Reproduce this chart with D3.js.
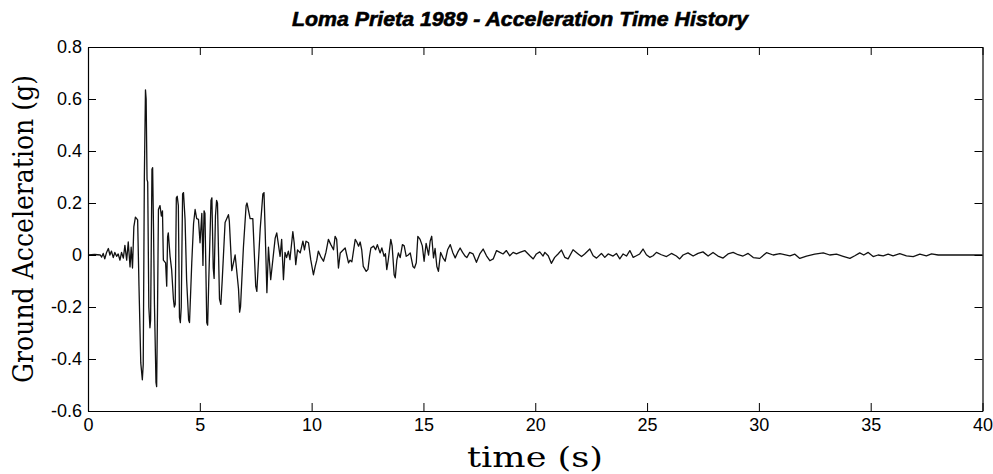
<!DOCTYPE html>
<html>
<head>
<meta charset="utf-8">
<script src="https://cdn.jsdelivr.net/npm/d3@7"></script>
<style>
  body { margin: 0; background: #fff; }
  svg { display: block; }
</style>
</head>
<body>
<svg id="chart" width="993" height="474"></svg>
<script>
// Loma Prieta record as [time (s), acceleration (g)]
var onset = [
  [0, 0], [0.3, 0.002], [0.55, 0], [0.61, -0.008], [0.68, 0.006], [0.75, -0.015],
  [0.83, 0.01], [0.91, 0.025], [0.98, 0], [1.05, 0.015], [1.13, -0.01], [1.2, 0.01],
  [1.28, -0.005], [1.35, 0.004], [1.43, -0.02], [1.5, 0.01], [1.58, -0.012],
  [1.65, 0.037], [1.73, -0.02], [1.8, 0.05], [1.88, -0.046], [1.93, 0.03], [1.99, -0.05]
];
var strong = [
  [2.05, 0.108], [2.12, 0.146], [2.22, 0.135], [2.28, -0.12], [2.36, -0.415], [2.43, -0.48],
  [2.47, -0.42], [2.52, 0.3], [2.57, 0.635], [2.6, 0.6], [2.64, 0.29], [2.67, 0.28],
  [2.72, -0.2], [2.77, -0.28], [2.8, -0.25], [2.86, 0.33], [2.89, 0.336], [2.93, 0.1],
  [2.97, -0.185], [3.04, -0.49], [3.07, -0.506], [3.11, -0.2], [3.15, 0.175], [3.22, 0.19],
  [3.28, 0.15], [3.33, 0.17], [3.37, -0.02], [3.47, -0.03], [3.52, -0.12], [3.56, 0.07],
  [3.59, 0.085], [3.67, -0.005], [3.74, -0.056], [3.82, -0.17], [3.86, -0.2], [3.9, -0.19],
  [3.95, 0.22], [3.99, 0.226], [4.04, 0.19], [4.09, -0.24], [4.13, -0.26], [4.17, -0.2],
  [4.23, 0.235], [4.27, 0.24], [4.34, 0.137], [4.41, -0.095], [4.5, -0.25], [4.54, -0.26],
  [4.64, -0.03], [4.72, 0.12], [4.79, 0.175], [4.86, 0.14], [4.94, 0.137], [5.01, 0.047],
  [5.09, 0.16], [5.14, -0.04], [5.19, 0.17], [5.23, 0.16], [5.31, -0.26], [5.35, -0.27],
  [5.4, -0.1], [5.5, 0.21], [5.54, 0.22], [5.6, -0.05], [5.64, -0.09], [5.7, 0.15],
  [5.75, 0.21], [5.79, 0.2], [5.88, -0.17], [5.94, -0.19], [6.0, -0.1], [6.13, 0.125],
  [6.28, 0.155], [6.32, 0.13], [6.43, -0.06], [6.58, 0], [6.73, -0.13], [6.78, -0.22],
  [6.82, -0.2], [6.95, 0.03], [7.07, 0.19], [7.11, 0.2], [7.25, 0.14], [7.37, 0.14],
  [7.5, -0.12], [7.55, -0.14], [7.7, 0.1], [7.82, 0.235], [7.87, 0.24], [7.92, 0.1],
  [8.0, -0.145], [8.07, 0.03], [8.17, -0.095], [8.37, 0.065], [8.44, 0.085], [8.59, -0.005],
  [8.66, 0.06], [8.74, -0.095]
];
var decay = [
  [8.81, 0.01], [8.88, -0.01], [8.96, 0.015], [9.03, -0.018], [9.16, 0.09], [9.22, 0.047],
  [9.29, -0.037], [9.37, 0.02], [9.49, 0.008], [9.61, 0.053], [9.68, 0.02], [9.75, 0.053],
  [9.86, 0.047], [9.96, -0.018], [10.08, -0.076], [10.16, -0.044], [10.23, -0.02], [10.3, 0.015],
  [10.4, -0.005], [10.53, -0.024], [10.64, 0.01], [10.75, 0.06], [10.86, 0.04], [10.98, 0.02],
  [11.05, 0.072], [11.12, 0.06], [11.2, -0.05], [11.28, 0.008], [11.42, 0.02], [11.5, 0.027],
  [11.57, 0], [11.65, -0.03], [11.72, -0.02], [11.8, -0.026], [11.95, 0.06], [12.02, 0.05],
  [12.1, 0.034], [12.17, 0.05], [12.24, 0.02], [12.31, -0.044], [12.44, -0.063], [12.52, -0.055],
  [12.59, -0.005], [12.65, 0.027], [12.77, 0.034], [12.86, 0.02], [12.94, 0.04], [13.06, 0.008],
  [13.14, 0.027], [13.24, -0.005], [13.3, 0.005], [13.36, -0.056], [13.42, -0.024], [13.54, 0.06],
  [13.6, 0.035], [13.69, -0.076], [13.74, -0.088], [13.81, -0.02], [13.88, 0.008], [13.96, -0.01],
  [14.06, 0.04], [14.14, 0.035], [14.23, -0.005], [14.32, 0], [14.41, 0.008], [14.53, -0.044],
  [14.6, -0.05], [14.68, -0.03], [14.75, 0.072], [14.85, 0.06], [14.95, 0.035], [15.03, -0.024],
  [15.12, 0.045], [15.23, 0], [15.3, 0.053], [15.37, 0.072], [15.45, -0.011], [15.52, 0.025],
  [15.6, -0.044], [15.67, -0.063], [15.77, 0.01], [15.87, -0.01], [15.97, -0.024], [16.08, 0.02],
  [16.2, 0.04], [16.31, 0.01], [16.42, -0.011], [16.53, 0.01], [16.64, 0.027], [16.75, 0.01],
  [16.87, -0.005], [16.94, -0.01]
];
var coda = [
  [17.07, 0.01], [17.22, 0.004], [17.37, -0.028], [17.52, 0.004], [17.67, 0.023], [17.82, -0.003],
  [17.97, -0.022], [18.12, -0.015], [18.27, 0.017], [18.42, 0.01], [18.56, 0.004], [18.71, 0.017],
  [18.86, -0.003], [19.01, 0.01], [19.16, 0.004], [19.31, 0.01], [19.53, 0.017], [19.76, -0.003],
  [19.91, -0.015], [20.05, 0.004], [20.2, 0.012], [20.35, -0.004], [20.43, 0.01], [20.58, -0.003],
  [20.72, -0.032], [20.87, -0.009], [21.02, 0.004], [21.17, 0.019], [21.32, -0.009], [21.47, -0.015],
  [21.69, 0.02], [21.92, 0.004], [22.07, -0.006], [22.21, 0.004], [22.44, 0.023], [22.59, -0.003],
  [22.74, -0.012], [22.96, 0.006], [23.11, -0.009], [23.26, 0.004], [23.48, -0.004], [23.63, 0.006],
  [23.78, -0.015], [23.93, 0.004], [24.08, -0.004], [24.23, 0.017], [24.38, -0.009], [24.52, -0.003],
  [24.67, 0.004], [24.82, 0.023], [24.97, 0.001], [25.12, -0.009], [25.27, -0.003], [25.42, 0.01],
  [25.64, 0.001], [25.87, -0.006], [26.09, 0.006], [26.31, -0.004], [26.46, -0.015], [26.61, 0],
  [26.83, 0.008], [27.06, -0.004], [27.28, 0.006], [27.5, 0.012], [27.73, -0.004], [27.95, 0.01],
  [28.17, -0.004], [28.4, -0.012], [28.62, 0.004], [28.85, 0.01], [29.07, 0.001], [29.29, -0.004]
];
var tail = [
  [29.52, 0.006], [29.75, -0.01], [30.04, -0.013], [30.34, 0.009], [30.64, 0], [30.94, 0.005],
  [31.39, -0.003], [31.61, 0.003], [31.83, -0.013], [32.13, -0.004], [32.5, 0.003], [32.88, 0.008],
  [33.17, 0], [33.47, 0.003], [33.77, -0.005], [34.07, -0.013], [34.29, -0.003], [34.51, 0.008],
  [34.69, 0], [34.89, 0.01], [35.11, -0.006], [35.33, 0], [35.56, -0.003], [35.78, 0.003],
  [36.0, -0.003], [36.3, 0.005], [36.6, -0.003], [36.9, -0.006], [37.2, 0.003], [37.49, -0.003],
  [37.72, 0.004], [38.02, 0], [40, 0]
];
var record = onset.concat(strong, decay, coda, tail);

var xTicks = [0, 5, 10, 15, 20, 25, 30, 35, 40];
var yTicks = [-0.6, -0.4, -0.2, 0, 0.2, 0.4, 0.6, 0.8];
var titleText = 'Loma Prieta 1989 - Acceleration Time History';
var xLabel = 'time (s)';
var yLabel = 'Ground Acceleration (g)';

var svg = d3.select('#chart');
var plotLeft = 88, plotRight = 982.5, plotTop = 47, plotBottom = 411;

var x = d3.scaleLinear().domain([0, 40]).range([plotLeft, plotRight]);
var y = d3.scaleLinear().domain([-0.6, 0.8]).range([plotBottom, plotTop]);

var sans = 'Liberation Sans, Arial, Helvetica, sans-serif';
var serif = 'DejaVu Serif, Liberation Serif, serif';

// the record itself
svg.append('path')
  .datum(record)
  .attr('fill', 'none')
  .attr('stroke', '#111')
  .attr('stroke-width', 1.3)
  .attr('stroke-linejoin', 'round')
  .attr('d', d3.line().x(function (d) { return x(d[0]); }).y(function (d) { return y(d[1]); }));

// axes, ticks pointing inward on all four sides
function styleAxis(g) {
  g.attr('font-family', sans).attr('font-size', 18);
  g.selectAll('line').attr('stroke', '#000');
  g.selectAll('text').attr('fill', '#000');
  g.select('.domain').attr('stroke', '#000').attr('stroke-width', 1.2);
}

function yFormat(d) {
  return d === 0 ? '0' : d3.format('.1f')(d).replace('\u2212', '-');
}

svg.append('g')
  .attr('transform', 'translate(0,' + plotBottom + ')')
  .call(d3.axisBottom(x).tickValues(xTicks).tickFormat(d3.format('d')).tickSizeInner(-8).tickSizeOuter(0).tickPadding(7))
  .call(styleAxis);

svg.append('g')
  .attr('transform', 'translate(0,' + plotTop + ')')
  .call(d3.axisTop(x).tickValues(xTicks).tickFormat('').tickSizeInner(-8).tickSizeOuter(0))
  .call(styleAxis);

svg.append('g')
  .attr('transform', 'translate(' + plotLeft + ',0)')
  .call(d3.axisLeft(y).tickValues(yTicks).tickFormat(yFormat).tickSizeInner(-8).tickSizeOuter(0).tickPadding(6))
  .call(styleAxis);

svg.append('g')
  .attr('transform', 'translate(' + plotRight + ',0)')
  .call(d3.axisRight(y).tickValues(yTicks).tickFormat('').tickSizeInner(-8).tickSizeOuter(0))
  .call(styleAxis);

// title and labels
svg.append('text')
  .attr('x', 520).attr('y', 26)
  .attr('text-anchor', 'middle')
  .attr('font-family', sans).attr('font-weight', 'bold').attr('font-style', 'italic')
  .attr('font-size', 20)
  .attr('stroke', '#000').attr('stroke-width', 0.6)
  .attr('textLength', 456).attr('lengthAdjust', 'spacingAndGlyphs')
  .text(titleText);

svg.append('text')
  .attr('x', 535).attr('y', 467)
  .attr('text-anchor', 'middle')
  .attr('font-family', serif).attr('font-size', 28)
  .attr('textLength', 136).attr('lengthAdjust', 'spacingAndGlyphs')
  .text(xLabel);

svg.append('text')
  .attr('transform', 'translate(33,229) rotate(-90)')
  .attr('text-anchor', 'middle')
  .attr('font-family', serif).attr('font-size', 28)
  .attr('textLength', 308).attr('lengthAdjust', 'spacingAndGlyphs')
  .text(yLabel);
</script>
</body>
</html>
